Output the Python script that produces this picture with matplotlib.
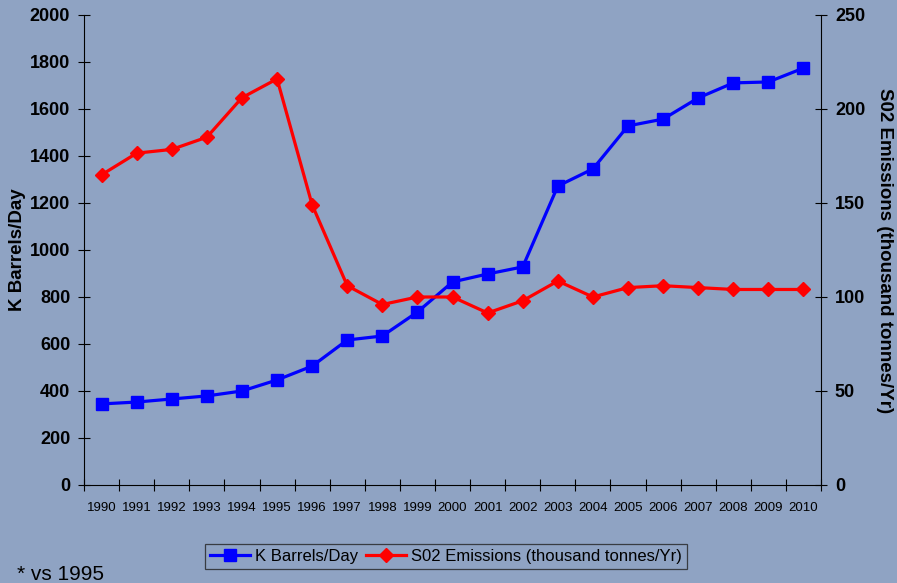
import matplotlib
matplotlib.use("Agg")
import matplotlib.pyplot as plt
import numpy as np
from matplotlib.lines import Line2D

plt.rcParams['font.family'] = ['Liberation Sans', 'DejaVu Sans']

years = [str(y) for y in range(1990, 2011)]
barrels = [345, 353, 366, 379, 400, 447, 506, 617, 634, 736, 864, 898, 928,
           1272, 1345, 1528, 1557, 1647, 1711, 1715, 1774]
so2 = [165, 176.5, 178.5, 185, 206, 216, 149, 106, 96, 100, 100, 91.5, 98,
       108.5, 100, 105, 106, 105, 104, 104, 104]

bg = '#8FA3C3'
fig = plt.figure(figsize=(8.97, 5.83), dpi=100, facecolor=bg)
ax = fig.add_axes([0.0937, 0.1681, 0.9153 - 0.0937, 0.9743 - 0.1681])
ax.set_facecolor(bg)
ax2 = ax.twinx()

x = np.arange(len(years))
ax.plot(x, barrels, color='#0000FF', lw=2.3, marker='s', ms=8.5, zorder=3)
ax2.plot(x, so2, color='#FF0000', lw=2.3, marker='D', ms=7.5, zorder=3)

ax.set_xlim(-0.5, len(years) - 0.5)
ax.set_ylim(0, 2000)
ax2.set_ylim(0, 250)
ax.set_yticks(np.arange(0, 2001, 200))
ax2.set_yticks(np.arange(0, 251, 50))

ax.set_xticks(np.arange(-0.5, len(years), 1.0))
ax.set_xticklabels([])
ax.set_xticks(x, minor=True)
ax.set_xticklabels(years, minor=True, fontsize=9.5)
ax.tick_params(axis='x', which='major', direction='inout', length=8, width=0.8)
ax.tick_params(axis='x', which='minor', length=0, pad=12.5)

ax.tick_params(axis='y', direction='inout', length=8, width=0.8, labelsize=13, pad=6)
ax2.tick_params(axis='y', direction='inout', length=8, width=0.8, labelsize=13, pad=6)
for lab in ax.get_yticklabels() + ax2.get_yticklabels():
    lab.set_fontweight('bold')

for a in (ax, ax2):
    a.spines['top'].set_visible(False)
ax.spines['right'].set_visible(False)
ax2.spines['left'].set_visible(False)
ax2.spines['bottom'].set_visible(False)

fig.text(0.019, 0.571, 'K Barrels/Day', rotation=90, fontsize=13.5, fontweight='bold',
         ha='center', va='center')
fig.text(0.986, 0.571, 'S02 Emissions (thousand tonnes/Yr)', rotation=270, fontsize=13.5,
         fontweight='bold', ha='center', va='center')

handles = [Line2D([], [], color='#0000FF', lw=2.3, marker='s', ms=8),
           Line2D([], [], color='#FF0000', lw=2.3, marker='D', ms=7)]
leg = fig.legend(handles, ['K Barrels/Day', 'S02 Emissions (thousand tonnes/Yr)'],
                 loc='center', bbox_to_anchor=(446 / 897, 1 - 556.5 / 583), ncol=2,
                 fontsize=12, frameon=True, fancybox=False, edgecolor='#222222',
                 facecolor=bg, handlelength=2.4, handletextpad=0.3, columnspacing=0.5,
                 borderpad=0.3, borderaxespad=0)
leg.get_frame().set_linewidth(0.9)

fig.text(17 / 897, 1 - 574 / 583, '* vs 1995', fontsize=15, ha='left', va='center')

fig.savefig('out.png', dpi=100, facecolor=bg)
